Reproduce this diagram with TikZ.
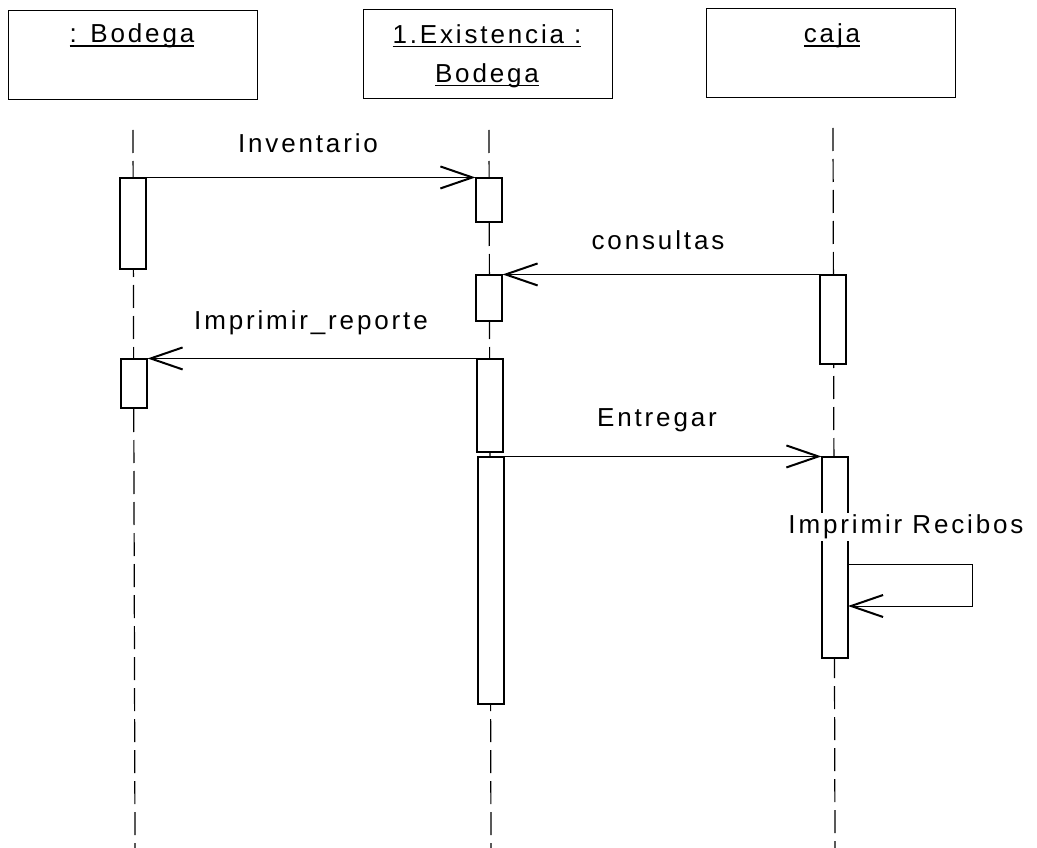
\documentclass[tikz,border=0pt]{standalone}
\usepackage{fontspec}
\setmainfont{Liberation Sans}
\newfontfamily\umlfont[LetterSpace=11]{Liberation Sans}
\usetikzlibrary{arrows.meta}

\newcommand\objname[1]{\setbox0=\hbox{#1}\rlap{\rule[-4pt]{\wd0}{1.6pt}}\box0}

\begin{document}
\begin{tikzpicture}[
      x = 1pt, y = -1pt,
      every node/.style = {
        inner sep = 0pt, font = \umlfont\fontsize{26}{39}\selectfont},
      object/.style = {draw, line width = 1pt,
        minimum width = 249pt, minimum height = 89pt},
      act/.style = {draw, fill = white, line width = 1.1pt, minimum width = 26pt},
      life/.style = {line width = 1.2pt, dash pattern = on 23pt off 8pt},
      msg/.style = {line width = .8pt,
        -{Straight Barb[length = 32pt, width = 22pt, line width = 2pt]}}
      ]
    \useasboundingbox (0,0) rectangle (1037,848);
    % objects
    \node[object] (O1) at (132.5,55) {};
    \node[object] (O2) at (487.5,54) {};
    \node[object] (O3) at (830.5,53.5) {};
    \node (O1t) at (132,36) {\objname{: Bodega}};
    \node[align = center] (O2t) at (487,56) {\objname{1.Existencia :}\\ \objname{Bodega}};
    \node (O3t) at (832,36) {\objname{caja}};
    % lifelines
    \coordinate (L1a) at (133,130);
    \coordinate (L1b) at (135,848);
    \coordinate (L2a) at (489,130);
    \coordinate (L2b) at (491,848);
    \coordinate (L3a) at (833,128);
    \coordinate (L3b) at (835,848);
    \draw[life] (L1a) -- (L1b);
    \draw[life] (L2a) -- (L2b);
    \draw[life] (L3a) -- (L3b);
    % activations
    \node[act, minimum height = 91pt] (A1) at (133,223.5) {};
    \node[act, minimum height = 49pt] (A2) at (134,383.5) {};
    \node[act, minimum height = 44pt] (B1) at (489,200) {};
    \node[act, minimum height = 46pt] (B2) at (489,298) {};
    \node[act, minimum height = 93pt] (B3) at (490,405.5) {};
    \node[act, minimum height = 247pt] (B4) at (491,580.5) {};
    \node[act, minimum height = 89pt] (C1) at (833,319.5) {};
    \node[act, minimum height = 201pt] (C2) at (835,557.5) {};
    % messages
    \draw[msg] (A1.north east) -- (B1.north west);
    \draw[msg] (C1.north west) -- (B2.north east);
    \draw[msg] (B3.north west) -- (A2.north east);
    \draw[msg] (B4.north east) -- (C2.north west);
    \coordinate (S1) at (848,564);
    \coordinate (S2) at (972,564);
    \coordinate (S3) at (972,606);
    \coordinate (S4) at (848,606);
    \draw[msg] (S1) -- (S2) -- (S3) -- (S4);
    \node (M1) at (308,143) {Inventario};
    \node (M2) at (658,240) {consultas};
    \node (M3) at (311,323) {Imprimir\_reporte};
    \node (M4) at (657,420) {Entregar};
    \node[fill = white, inner ysep = 2pt] (M5) at (906,527) {Imprimir Recibos};
  \end{tikzpicture}
\end{document}
